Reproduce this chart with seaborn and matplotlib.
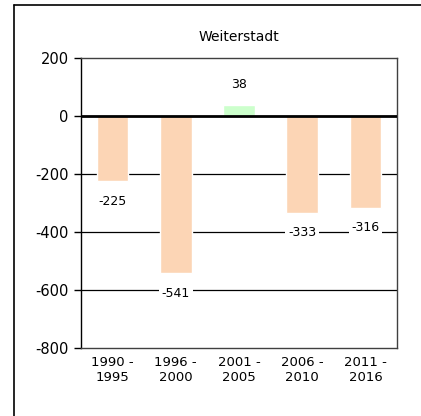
import matplotlib

matplotlib.use("Agg")
import matplotlib.pyplot as plt
import seaborn as sns
import pandas as pd
from matplotlib.lines import Line2D

# --- data ---
periods = ["1990 -\n1995", "1996 -\n2000", "2001 -\n2005", "2006 -\n2010", "2011 -\n2016"]
values = [-225, -541, 38, -333, -316]
title = "Weiterstadt"
yticks = [200, 0, -200, -400, -600, -800]

NEG_COLOR = "#fcd5b5"
POS_COLOR = "#ccffcc"

df = pd.DataFrame({"period": periods, "value": values})
df["sign"] = ["pos" if v >= 0 else "neg" for v in values]

sns.set_theme(style="white")
plt.rcParams["font.family"] = ["DejaVu Sans"]
plt.rcParams["text.color"] = "black"
plt.rcParams["xtick.color"] = "black"
plt.rcParams["ytick.color"] = "black"

fig = plt.figure(figsize=(4.21, 4.16), dpi=100)
ax = fig.add_axes([0.1924, 0.1635, 0.7506, 0.6971])

sns.barplot(data=df, x="period", y="value", hue="sign",
            palette={"neg": NEG_COLOR, "pos": POS_COLOR},
            width=0.5, legend=False, ax=ax, saturation=1, zorder=2)

ax.set_ylim(-800, 200)
ax.set_yticks(yticks)
ax.set_yticklabels([str(t) for t in yticks], fontsize=10.5)
ax.set_xlim(-0.5, len(periods) - 0.5)
ax.tick_params(axis="y", length=5, width=1, color="black", pad=4, left=True)
ax.tick_params(axis="x", length=0, labelsize=9.5, pad=6)
ax.set_xlabel("")
ax.set_ylabel("")
ax.set_title(title, fontsize=10, pad=12, color="black")

for t in [-200, -400, -600]:
    ax.axhline(t, color="black", lw=0.9, zorder=1)
ax.axhline(0, color="black", lw=2, zorder=3)

for s in ax.spines.values():
    s.set_color("#404040")
    s.set_linewidth(1)
ax.spines["left"].set_color("black")

for i, v in enumerate(values):
    y = v - 70 if v < 0 else v + 70
    ax.text(i, y, f"{v}", ha="center", va="center",
            fontsize=9, zorder=4,
            bbox=dict(facecolor="white", edgecolor="none", pad=2))

# frame lines of the surrounding panel
fig.add_artist(Line2D([14 / 421, 14 / 421], [0, 1 - 5 / 416], color="black", lw=1.2))
fig.add_artist(Line2D([14 / 421, 1], [1 - 5 / 416, 1 - 5 / 416], color="black", lw=1.2))

fig.savefig("out.png", dpi=100)
